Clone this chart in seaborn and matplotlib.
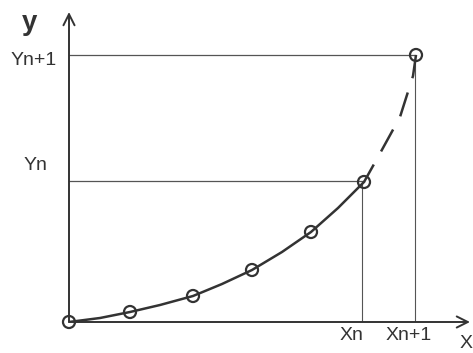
import matplotlib
matplotlib.use('Agg')
import matplotlib.pyplot as plt
import seaborn as sns
import numpy as np

# values (axis units = pixels from the origin)
curve_x = [0, 31, 61, 91, 124, 153, 183, 213, 242, 269, 295]
curve_y = [0, 4, 10, 17, 26, 38, 52, 70, 90, 114, 140]
point_x = [0, 61, 124, 183, 242, 295, 347]
point_y = [0, 10, 26, 52, 90, 140, 267]
dash_x = [295, 309, 331, 344, 347]
dash_y = [140, 165, 205, 246, 267]
xn, xn1 = 293, 346
yn, yn1 = 141, 267
x_labels = ['Xn', 'Xn+1']
y_labels = ['Yn', 'Yn+1']

INK = '#333333'
GUIDE = '#555555'

sns.set_style('white')
plt.rcParams['font.family'] = ['Liberation Sans', 'DejaVu Sans']

fig = plt.figure(figsize=(4.73, 3.53), dpi=100)
ax = fig.add_axes([69 / 473, 31 / 353, 404 / 473, 322 / 353])
ax.set_xlim(0, 404)
ax.set_ylim(0, 322)
ax.axis('off')

# guide lines
ax.plot([0, 295], [yn, yn], color=GUIDE, lw=0.9)
ax.plot([0, 347], [yn1, yn1], color=GUIDE, lw=0.9)
ax.plot([xn, xn], [0, yn], color=GUIDE, lw=0.8)
ax.plot([xn1, xn1], [0, yn1], color=GUIDE, lw=0.8)

# axes with arrows
arrow = dict(arrowstyle='->', lw=1.4, color=INK, mutation_scale=20, shrinkA=0, shrinkB=0)
ax.annotate('', xy=(401, 0), xytext=(0, 0), arrowprops=arrow, annotation_clip=False)
ax.annotate('', xy=(0, 310), xytext=(0, 0), arrowprops=arrow, annotation_clip=False)

# curve
sns.lineplot(x=curve_x, y=curve_y, sort=False, color=INK, lw=1.8, ax=ax)
sns.lineplot(x=dash_x, y=dash_y, sort=False, color=INK, lw=1.8, ax=ax,
             dashes=False, linestyle=(2, (10, 6)))
sns.scatterplot(x=point_x, y=point_y, s=75, facecolor='none', edgecolor=INK,
                linewidth=1.6, ax=ax, zorder=5, clip_on=False)

# labels
ax.text(xn + 1, -14, x_labels[0], ha='right', va='center', fontsize=14, color=INK)
ax.text(xn1 - 6, -14, x_labels[1], ha='center', va='center', fontsize=14, color=INK)
ax.text(-34, yn + 16, y_labels[0], ha='center', va='center', fontsize=14, color=INK)
ax.text(-35, yn1 - 5, y_labels[1], ha='center', va='center', fontsize=14, color=INK)
ax.text(-39, 299, 'y', ha='center', va='center', fontsize=20, fontweight='bold', color=INK)
ax.text(397, -22, 'X', ha='center', va='center', fontsize=14, color=INK)

fig.savefig('out.png', dpi=100, facecolor='white')
